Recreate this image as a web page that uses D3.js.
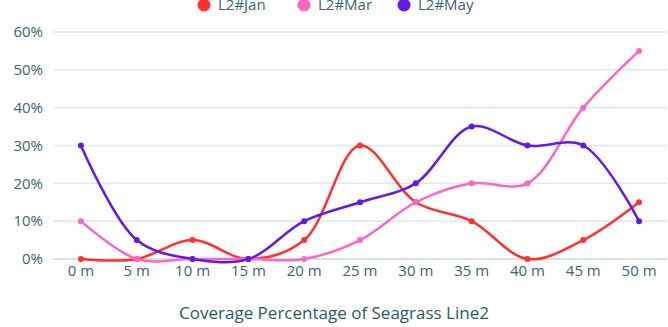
<!DOCTYPE html>
<html>
<head>
<meta charset="utf-8">
<script src="https://cdn.jsdelivr.net/npm/d3@7"></script>
<style>
  html, body { margin: 0; padding: 0; background: #fff; }
  svg { display: block; font-family: "Open Sans", Lato, sans-serif; }
</style>
</head>
<body>
<svg id="chart" width="668" height="327"></svg>
<script>
// Sampling distances along the transect
const categories = ["0 m", "5 m", "10 m", "15 m", "20 m", "25 m", "30 m", "35 m", "40 m", "45 m", "50 m"];
// Seagrass coverage (%) per survey month
const janValues = [0, 0, 5, 0, 5, 30, 15, 10, 0, 5, 15];
const marValues = [10, 0, 0, 0, 0, 5, 15, 20, 20, 40, 55];
const mayValues = [30, 5, 0, 0, 10, 15, 20, 35, 30, 30, 10];
const seriesNames = ["L2#Jan", "L2#Mar", "L2#May"];
const yTicks = [0, 10, 20, 30, 40, 50, 60];
const chartTitle = "Coverage Percentage of Seagrass Line2";

(function () {
const colors = ["#ff3030", "#ff66c4", "#6418e6"];
const series = [janValues, marValues, mayValues].map((v, i) => ({ name: seriesNames[i], values: v, color: colors[i] }));

const svg = d3.select("#chart");
const plotLeft = 53, plotRight = 667, plotTop = 32, plotBottom = 259;
const font = "'Open Sans', Lato, sans-serif";

const x = d3.scaleBand().domain(categories).range([plotLeft, plotRight]);
const y = d3.scaleLinear().domain([0, 60]).range([plotBottom, plotTop]);
const cx = d => x(d) + x.bandwidth() / 2;

const textColor = "#3b6570";

// Horizontal gridlines
svg.append("g").selectAll("line").data(yTicks).join("line")
  .attr("x1", plotLeft).attr("x2", plotRight)
  .attr("y1", d => y(d)).attr("y2", d => y(d))
  .attr("stroke", d => d === 0 ? "#c9d7db" : "#e1e8eb")
  .attr("stroke-width", 1.5);

// Y axis labels
const yAxis = svg.append("g").attr("transform", `translate(${plotLeft - 10},0)`)
  .call(d3.axisLeft(y).tickValues(yTicks).tickFormat(d => d + "%").tickSize(0).tickPadding(0));
yAxis.select(".domain").remove();
yAxis.selectAll("text").attr("fill", textColor).attr("font-size", 15)
  .attr("font-family", font);

// X axis labels
const xAxis = svg.append("g").attr("transform", `translate(0,${plotBottom + 4})`)
  .call(d3.axisBottom(x).tickSize(0).tickPadding(0));
xAxis.select(".domain").remove();
xAxis.selectAll("text").attr("fill", textColor).attr("font-size", 15)
  .attr("font-family", font).attr("dy", "0.85em");

// Lines and points
const line = d3.line()
  .x((d, i) => cx(categories[i]))
  .y(d => y(d))
  .curve(d3.curveCatmullRom.alpha(0.5));

const g = svg.append("g");
series.forEach(s => {
  g.append("path").attr("d", line(s.values))
    .attr("fill", "none").attr("stroke", s.color).attr("stroke-width", 2.5);
});
series.forEach(s => {
  g.append("g").selectAll("circle").data(s.values).join("circle")
    .attr("cx", (d, i) => cx(categories[i]))
    .attr("cy", d => y(d))
    .attr("r", 3)
    .attr("fill", s.color);
});

// Legend
const legendX = [204, 304, 404];
const legend = svg.append("g");
series.forEach((s, i) => {
  legend.append("circle").attr("cx", legendX[i]).attr("cy", 5).attr("r", 6.5).attr("fill", s.color);
  legend.append("text").attr("x", legendX[i] + 14).attr("y", 5).attr("dy", "0.35em")
    .attr("fill", textColor).attr("font-size", 15).attr("font-family", font).text(s.name);
});

// Title below the axis
svg.append("text").attr("x", 334).attr("y", 319).attr("text-anchor", "middle")
  .attr("fill", "#2b5a62").attr("font-size", 17).attr("font-family", font).text(chartTitle);
})();
</script>
</body>
</html>
